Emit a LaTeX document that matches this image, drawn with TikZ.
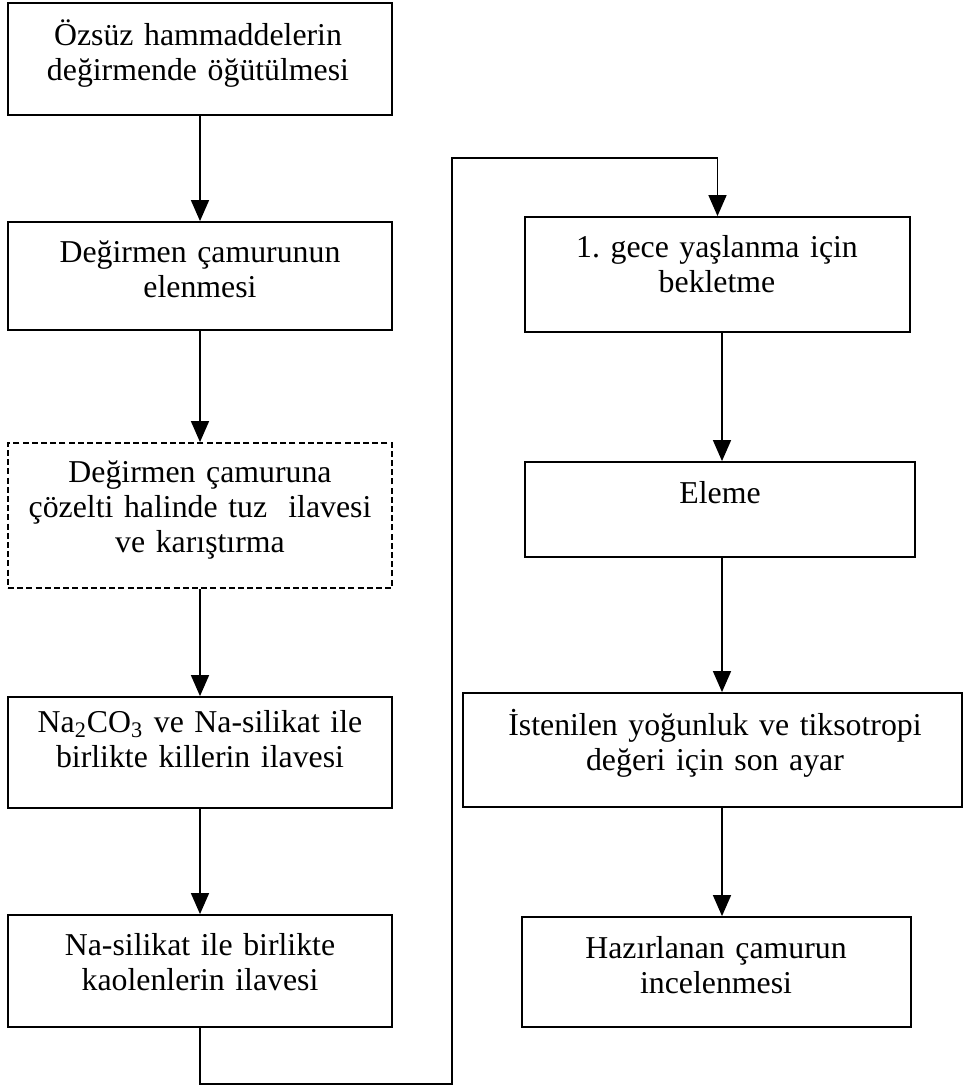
\documentclass[tikz,border=0pt]{standalone}
\usepackage{fontspec}
\setmainfont{Liberation Serif}
\usetikzlibrary{arrows.meta}
\frenchspacing

\tikzset{
  stepbox/.style={draw, line width=0.9pt, inner sep=0pt, minimum width=192pt},
  steptext/.style={anchor=base, align=center, text width=240pt, inner sep=0pt,
    font=\fontsize{15.9}{17.5}\selectfont},
  flow/.style={line width=0.75pt, -{Triangle[length=10.5pt, width=9pt]}},
}

\begin{document}
\begin{tikzpicture}[x=0.5pt,y=0.5pt,yscale=-1,xscale=1]
\useasboundingbox (0,0) rectangle (967,1086);

%Shape: Rectangle [left column]
\node[stepbox, minimum height=56pt] (grind) at (200,59) {};
\node[stepbox, minimum height=54pt] (sieve) at (200,276) {};
\node[stepbox, minimum height=72.5pt, dash pattern=on 3pt off 1.6pt] (salt) at (200,515.5) {};
\node[stepbox, minimum height=55.5pt] (clay) at (200,752.5) {};
\node[stepbox, minimum height=56pt] (kaolin) at (200,971) {};

%Shape: Rectangle [right column]
\node[stepbox, minimum width=192.5pt, minimum height=57.5pt] (aging) at (717.5,274.5) {};
\node[stepbox, minimum width=195pt, minimum height=47.5pt] (screen) at (720,509.5) {};
\node[stepbox, minimum width=249.5pt, minimum height=57pt] (adjust) at (712.5,750) {};
\node[stepbox, minimum width=194.5pt, minimum height=55pt] (exam) at (716.5,972) {};

% Text Node
\node[steptext] (grind-t) at (198,46) {Özsüz hammaddelerin\\değirmende öğütülmesi};
% Text Node
\node[steptext] (sieve-t) at (200,262) {Değirmen çamurunun\\elenmesi};
% Text Node
\node[steptext] (salt-t) at (200,482) {Değirmen çamuruna\\çözelti halinde tuz~ ilavesi\\ve karıştırma};
% Text Node
\node[steptext] (clay-t) at (200,732) {Na\textsubscript{2}CO\textsubscript{3} ve Na-silikat ile\\birlikte killerin ilavesi};
% Text Node
\node[steptext] (kaolin-t) at (200,955) {Na-silikat ile birlikte\\kaolenlerin ilavesi};
% Text Node
\node[steptext] (aging-t) at (717,257) {1. gece yaşlanma için\\bekletme};
% Text Node
\node[steptext] (screen-t) at (720,503) {Eleme};
% Text Node
\node[steptext] (adjust-t) at (715,735) {İstenilen yoğunluk ve tiksotropi\\değeri için son ayar};
% Text Node
\node[steptext] (exam-t) at (716,958) {Hazırlanan çamurun\\incelenmesi};

%Straight Lines
\draw[flow] (grind) -- (sieve);
\draw[flow] (sieve) -- (salt);
\draw[flow] (salt) -- (clay);
\draw[flow] (clay) -- (kaolin);

% loop over to the second column
\coordinate (low) at (452,1084);
\coordinate (high) at (452,158);
\draw[flow] (kaolin.south) |- (low) -- (high) -| (aging.north);

\coordinate (rc) at (722,0);
\draw[flow] (aging.south -| rc) -- (screen.north -| rc);
\draw[flow] (screen.south -| rc) -- (adjust.north -| rc);
\draw[flow] (adjust.south -| rc) -- (exam.north -| rc);

\end{tikzpicture}
\end{document}
